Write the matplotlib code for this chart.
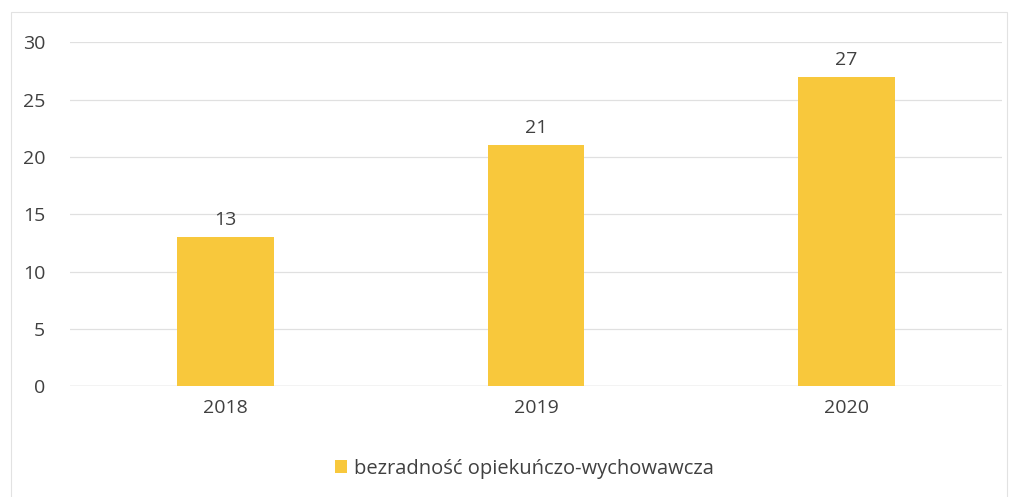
import matplotlib
matplotlib.use('Agg')
import matplotlib.pyplot as plt
from matplotlib.patches import Rectangle

years = ['2018', '2019', '2020']
values = [13, 21, 27]
series_name = 'bezradność opiekuńczo-wychowawcza'

plt.rcParams['font.family'] = ['Open Sans', 'DejaVu Sans']
text_color = '#404040'
bar_color = '#F8C83C'

fig = plt.figure(figsize=(10.17, 4.97), dpi=100)
ax = fig.add_axes([0.069, 0.223, 0.916, 0.692])

x = range(len(years))
bars = ax.bar(x, values, width=0.31, color=bar_color, label=series_name, zorder=3)
for rect, v in zip(bars, values):
    ax.text(rect.get_x() + rect.get_width() / 2, v + 0.7, str(v),
            ha='center', va='bottom', fontsize=14, color=text_color)

ax.set_xlim(-0.5, len(years) - 0.5)
ax.set_ylim(0, 30)
ax.set_yticks(range(0, 31, 5))
ax.set_xticks(list(x))
ax.set_xticklabels(years)
ax.tick_params(axis='both', length=0, labelsize=14, colors=text_color)
ax.tick_params(axis='y', pad=18)
ax.tick_params(axis='x', pad=9)
ax.grid(axis='y', color='#e0e0e0', linewidth=0.9, zorder=0)
for s in ax.spines.values():
    s.set_visible(False)
ax.axhline(0, color='#d4d4d4', linewidth=1, zorder=2)

leg = fig.legend(loc='lower center', bbox_to_anchor=(0.516, 0.0), frameon=False,
                 fontsize=14.5, handlelength=0.6, handleheight=0.6, handletextpad=0.35)
for t in leg.get_texts():
    t.set_color(text_color)

fig.patches.append(Rectangle((0.011, -0.01), 0.979, 0.985, transform=fig.transFigure,
                             fill=False, edgecolor='#e2e2e2', linewidth=0.8))

fig.savefig('out.png', dpi=100)
